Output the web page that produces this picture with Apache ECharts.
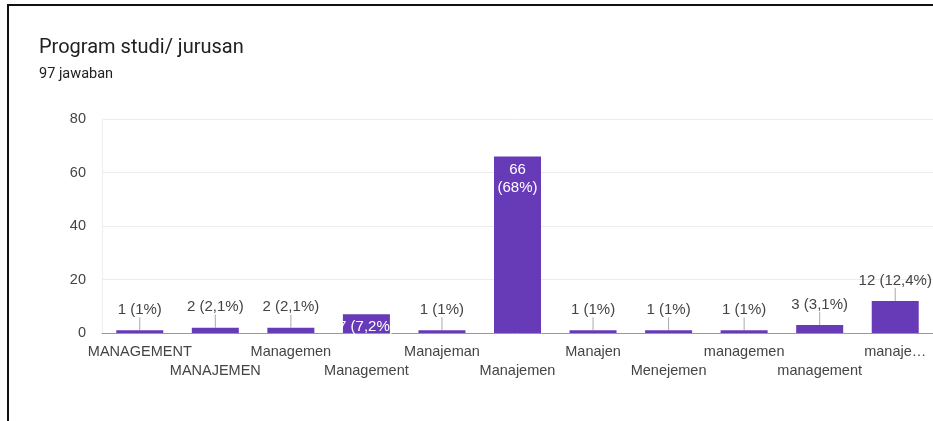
<!DOCTYPE html>
<html>
<head>
<meta charset="utf-8">
<script src="https://cdn.jsdelivr.net/npm/echarts@6/dist/echarts.min.js"></script>
<style>
  html, body { margin: 0; padding: 0; background: #fff; overflow: hidden; }
  #frame { position: absolute; left: 7px; top: 4px; width: 940px; height: 430px;
           border-top: 2px solid #111; border-left: 2px solid #111; }
  #chart { position: absolute; left: 0; top: 0; width: 933px; height: 421px; }
</style>
</head>
<body>
<div id="frame"></div>
<div id="chart"></div>
<script>
// jawaban per program studi
const categories = ['MANAGEMENT', 'MANAJEMEN', 'Managemen', 'Management', 'Manajeman',
  'Manajemen', 'Manajen', 'Menejemen', 'managemen', 'management', 'manaje…'];
const counts = [1, 2, 2, 7, 1, 66, 1, 1, 1, 3, 12];
const percents = ['1%', '2,1%', '2,1%', '7,2%', '1%', '68%', '1%', '1%', '1%', '3,1%', '12,4%'];
const yTicks = [0, 20, 40, 60, 80];

const insideBars = [3, 5];

const chart = echarts.init(document.getElementById('chart'));

const barData = counts.map(function (v, i) {
  const inside = insideBars.indexOf(i) >= 0;
  const text = v + (i === 5 ? '\n' : ' ') + '(' + percents[i] + ')';
  return {
    value: v,
    label: inside ? {
      position: 'insideTop', distance: 4, color: '#fff', lineHeight: 18,
      formatter: text
    } : {
      position: 'top', distance: 13, color: '#444', formatter: text
    }
  };
});

// leader lines for labels above the bars
const leaderData = [];
counts.forEach(function (v, i) {
  if (insideBars.indexOf(i) < 0) leaderData.push([i, v]);
});

chart.setOption({
  animation: false,
  title: [
    { text: 'Program studi/ jurusan', left: 39, top: 38, padding: 0,
      textStyle: { fontFamily: 'Roboto', fontSize: 20, fontWeight: 'normal', color: '#202124' } },
    { text: '97 jawaban', left: 39, top: 67, padding: 0,
      textStyle: { fontFamily: 'Roboto', fontSize: 14.5, fontWeight: 'normal', color: '#202124' } }
  ],
  grid: { left: 102, top: 119, width: 836, height: 214, containLabel: false },
  xAxis: {
    type: 'category',
    data: categories,
    axisLine: { lineStyle: { color: '#999', width: 1 } },
    axisTick: { show: false },
    axisLabel: {
      interval: 0, color: '#444', fontFamily: 'Arial', fontSize: 14.5, margin: 9, lineHeight: 19,
      formatter: function (name, i) { return i % 2 ? '\n' + name : name; }
    }
  },
  yAxis: {
    type: 'value',
    min: yTicks[0], max: yTicks[yTicks.length - 1], interval: 20,
    axisLine: { show: true, lineStyle: { color: '#eee' } },
    axisTick: { show: false },
    splitLine: { lineStyle: { color: '#ececec' } },
    axisLabel: { color: '#444', fontFamily: 'Arial', fontSize: 14.5, margin: 16 }
  },
  series: [{
    type: 'bar',
    data: barData,
    barWidth: 47,
    itemStyle: { color: '#673ab7' },
    label: { show: true, fontFamily: 'Arial', fontSize: 15 }
  }, {
    type: 'custom',
    data: leaderData,
    silent: true,
    renderItem: function (params, api) {
      const p = api.coord([api.value(0), api.value(1)]);
      return {
        type: 'line',
        shape: { x1: p[0], y1: p[1], x2: p[0], y2: p[1] - 13 },
        style: { stroke: '#aaa', lineWidth: 1 }
      };
    }
  }]
});
</script>
</body>
</html>
